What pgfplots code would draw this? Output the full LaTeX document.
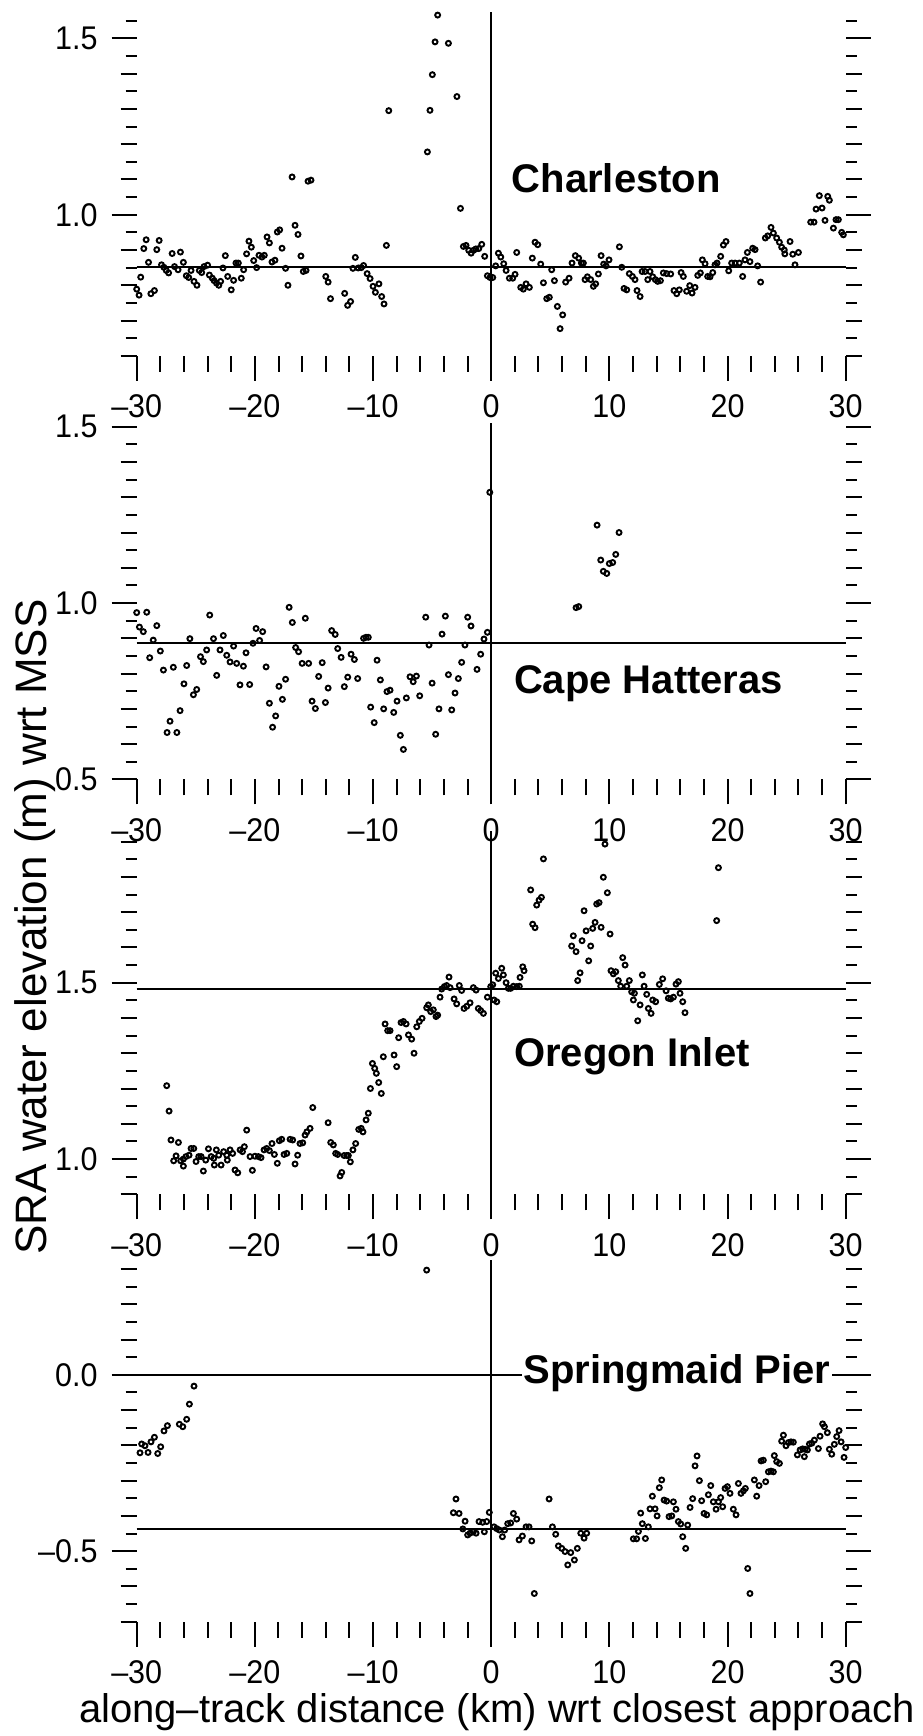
\documentclass[border=0pt]{standalone}
\usepackage{fontspec}
\setmainfont{Liberation Sans}
\newfontfamily\tickfont[FakeStretch=0.93]{Liberation Sans}
\usepackage{pgfplots}
\usepackage{pgfplotstable}
\pgfplotsset{compat=1.18}

\pgfplotstableread{
x y
-30.0 0.789
-29.8 0.772
-29.66 0.823
-29.4 0.904
-29.2 0.929
-29.0 0.865
-28.8 0.776
-28.5 0.785
-28.3 0.901
-28.1 0.927
-27.9 0.858
-27.7 0.851
-27.5 0.842
-27.3 0.835
-27.0 0.890
-26.8 0.853
-26.5 0.844
-26.3 0.894
-26.05 0.865
-25.8 0.827
-25.6 0.822
-25.4 0.842
-25.15 0.811
-24.9 0.800
-24.7 0.842
-24.5 0.836
-24.3 0.853
-24.0 0.857
-23.85 0.829
-23.6 0.820
-23.45 0.813
-23.25 0.806
-23.05 0.800
-22.9 0.811
-22.7 0.849
-22.5 0.884
-22.3 0.825
-22.0 0.787
-21.8 0.814
-21.6 0.863
-21.4 0.863
-21.15 0.820
-20.95 0.844
-20.7 0.889
-20.5 0.925
-20.3 0.908
-20.1 0.870
-19.85 0.850
-19.65 0.885
-19.4 0.880
-19.2 0.885
-18.97 0.937
-18.77 0.920
-18.55 0.866
-18.3 0.871
-18.1 0.951
-17.9 0.957
-17.7 0.905
-17.4 0.848
-17.2 0.800
-16.85 1.107
-16.6 0.970
-16.35 0.944
-16.1 0.883
-15.9 0.839
-15.67 0.842
-15.5 1.095
-15.25 1.098
-14.0 0.825
-13.8 0.809
-13.6 0.762
-12.4 0.777
-12.15 0.743
-11.9 0.754
-11.7 0.848
-11.5 0.879
-11.25 0.849
-11.0 0.850
-10.8 0.856
-10.5 0.833
-10.25 0.819
-10.0 0.797
-9.8 0.780
-9.5 0.804
-9.27 0.768
-9.07 0.747
-8.87 0.913
-8.67 1.295
-5.4 1.178
-5.18 1.296
-4.98 1.397
-4.75 1.490
-4.53 1.566
-3.62 1.486
-2.9 1.335
-2.6 1.018
-2.35 0.910
-2.13 0.913
-1.9 0.899
-1.7 0.891
-1.5 0.899
-1.3 0.903
-1.05 0.904
-0.8 0.916
-0.55 0.882
-0.32 0.827
-0.10 0.822
0.13 0.822
0.38 0.855
0.61 0.891
0.81 0.880
1.06 0.861
1.26 0.842
1.54 0.820
1.82 0.820
2.02 0.831
2.16 0.893
2.5 0.794
2.72 0.789
2.95 0.804
3.23 0.794
3.48 0.877
3.71 0.922
3.94 0.915
4.19 0.860
4.42 0.807
4.7 0.762
4.92 0.766
5.12 0.844
5.35 0.813
5.6 0.740
5.83 0.677
6.05 0.716
6.3 0.809
6.59 0.820
6.84 0.863
7.12 0.884
7.4 0.877
7.63 0.863
7.8 0.863
7.94 0.816
8.14 0.824
8.42 0.816
8.65 0.797
8.84 0.804
9.07 0.832
9.3 0.884
9.52 0.860
9.72 0.855
9.97 0.872
10.85 0.909
11.05 0.851
11.24 0.791
11.47 0.787
11.69 0.833
11.95 0.825
12.17 0.816
12.34 0.785
12.6 0.768
12.77 0.839
13.02 0.839
13.25 0.816
13.44 0.839
13.67 0.824
13.89 0.816
14.09 0.811
14.32 0.813
14.57 0.835
14.85 0.833
15.19 0.832
15.47 0.785
15.7 0.776
15.92 0.787
16.07 0.836
16.26 0.825
16.54 0.783
16.8 0.799
17.0 0.778
17.25 0.794
17.48 0.828
17.7 0.835
17.87 0.872
18.1 0.861
18.32 0.825
18.52 0.824
18.75 0.836
18.94 0.858
19.11 0.863
19.42 0.882
19.65 0.914
19.87 0.924
20.1 0.841
20.35 0.863
20.64 0.863
21.0 0.863
21.28 0.825
21.48 0.872
21.68 0.893
21.9 0.867
22.13 0.905
22.33 0.901
22.55 0.855
22.8 0.809
23.2 0.934
23.4 0.940
23.68 0.964
23.88 0.948
24.16 0.934
24.39 0.922
24.58 0.908
24.8 0.900
24.85 0.889
25.29 0.924
25.52 0.888
25.71 0.858
26.0 0.893
27.04 0.979
27.32 0.979
27.49 1.016
27.77 1.054
28.0 1.019
28.25 0.984
28.48 1.052
28.62 1.041
28.96 0.962
29.18 0.986
29.38 0.986
29.66 0.950
29.8 0.943
}\charleston

\pgfplotstableread{
x y
-30.0 0.973
-29.77 0.932
-29.44 0.919
-29.15 0.974
-28.9 0.845
-28.6 0.895
-28.3 0.936
-28.0 0.864
-27.74 0.810
-27.43 0.633
-27.18 0.665
-26.9 0.818
-26.6 0.633
-26.33 0.695
-26.0 0.771
-25.77 0.823
-25.5 0.899
-25.2 0.740
-24.92 0.755
-24.6 0.848
-24.36 0.834
-24.08 0.867
-23.82 0.966
-23.5 0.899
-23.23 0.795
-22.95 0.867
-22.67 0.908
-22.38 0.852
-22.1 0.833
-21.8 0.878
-21.54 0.829
-21.26 0.768
-20.97 0.821
-20.75 0.859
-20.44 0.769
-20.16 0.886
-19.9 0.928
-19.6 0.894
-19.34 0.919
-19.05 0.819
-18.77 0.716
-18.5 0.648
-18.24 0.680
-17.96 0.764
-17.67 0.727
-17.4 0.784
-17.1 0.988
-16.83 0.945
-16.55 0.874
-16.3 0.862
-16.0 0.829
-15.73 0.957
-15.45 0.829
-15.16 0.722
-14.88 0.701
-14.6 0.792
-14.3 0.831
-14.03 0.718
-13.8 0.759
-13.5 0.922
-13.2 0.911
-12.99 0.871
-12.7 0.846
-12.43 0.763
-12.14 0.790
-11.86 0.855
-11.58 0.840
-11.3 0.786
-10.8 0.900
-10.6 0.903
-10.4 0.903
-10.2 0.705
-9.9 0.661
-9.66 0.838
-9.38 0.782
-9.1 0.700
-8.82 0.749
-8.56 0.753
-8.25 0.690
-7.97 0.722
-7.69 0.625
-7.43 0.585
-7.18 0.731
-6.87 0.791
-6.6 0.777
-6.33 0.793
-6.05 0.737
-5.54 0.960
-5.26 0.881
-5.0 0.773
-4.7 0.628
-4.42 0.700
-4.16 0.912
-3.88 0.963
-3.62 0.797
-3.34 0.697
-3.06 0.745
-2.78 0.786
-2.5 0.832
-2.22 0.881
-1.99 0.960
-1.71 0.935
-1.2 0.812
-0.89 0.855
-0.61 0.898
-0.32 0.917
-0.12 1.314
7.18 0.987
7.41 0.990
8.96 1.221
9.27 1.122
9.49 1.090
9.78 1.084
10.0 1.112
10.28 1.115
10.54 1.138
10.82 1.200
}\hatteras

\pgfplotstableread{
x y
-27.46 1.208
-27.26 1.136
-27.1 1.054
-26.87 0.995
-26.67 1.009
-26.47 1.047
-26.28 0.995
-26.05 1.000
-26.05 0.980
-25.83 1.007
-25.57 1.011
-25.4 1.030
-25.17 1.030
-24.98 0.993
-24.75 1.007
-24.55 1.007
-24.36 0.966
-24.16 0.997
-23.93 1.029
-23.7 1.007
-23.48 1.002
-23.43 0.983
-23.26 1.026
-23.06 1.011
-22.86 0.983
-22.64 1.021
-22.38 1.011
-22.33 0.997
-22.1 1.026
-21.88 1.016
-21.68 0.969
-21.45 0.961
-21.25 1.026
-21.05 1.021
-20.89 1.035
-20.69 1.082
-20.41 1.007
-20.21 0.968
-19.99 1.008
-19.7 1.007
-19.48 1.004
-19.22 1.026
-19.0 1.030
-18.77 1.024
-18.55 1.044
-18.35 1.013
-18.1 0.988
-17.93 1.052
-17.73 1.056
-17.53 1.013
-17.3 1.016
-17.02 1.056
-16.8 1.054
-16.6 0.986
-16.38 1.011
-16.18 1.044
-15.95 1.046
-15.75 1.068
-15.6 1.077
-15.33 1.087
-15.1 1.146
-13.8 1.103
-13.58 1.047
-13.36 1.040
-13.16 1.016
-12.99 1.013
-12.79 0.952
-12.65 0.962
-12.45 1.010
-12.23 1.010
-12.09 1.010
-11.92 0.992
-11.7 1.026
-11.47 1.044
-11.21 1.084
-11.0 1.087
-10.85 1.077
-10.59 1.111
-10.4 1.130
-10.22 1.200
-10.05 1.271
-9.86 1.257
-9.72 1.243
-9.52 1.217
-9.3 1.186
-9.13 1.290
-8.98 1.383
-8.76 1.364
-8.56 1.364
-8.22 1.295
-8.0 1.262
-7.83 1.344
-7.63 1.387
-7.43 1.390
-7.2 1.383
-7.0 1.352
-6.73 1.340
-6.53 1.300
-6.3 1.375
-6.08 1.390
-5.85 1.399
-5.46 1.429
-5.32 1.437
-5.12 1.418
-4.9 1.423
-4.67 1.404
-4.53 1.408
-4.33 1.459
-4.19 1.482
-3.96 1.489
-3.77 1.492
-3.57 1.516
-3.48 1.486
-3.14 1.454
-2.92 1.440
-2.7 1.492
-2.5 1.478
-2.3 1.427
-2.07 1.433
-1.79 1.443
-1.51 1.486
-1.28 1.479
-1.09 1.427
-0.89 1.421
-0.66 1.413
-0.32 1.459
-0.04 1.489
0.13 1.494
0.24 1.451
0.47 1.446
0.38 1.527
0.61 1.512
0.89 1.541
1.03 1.522
1.26 1.500
1.45 1.484
1.65 1.484
1.88 1.490
2.16 1.489
2.38 1.490
2.44 1.515
2.67 1.545
2.78 1.534
3.34 1.763
3.51 1.666
3.71 1.656
3.85 1.720
4.05 1.734
4.25 1.742
4.42 1.851
6.81 1.604
6.95 1.633
7.18 1.588
7.32 1.506
7.52 1.528
7.69 1.619
7.86 1.704
8.03 1.647
8.25 1.562
8.42 1.604
8.59 1.654
8.79 1.671
8.93 1.723
9.13 1.727
9.3 1.657
9.49 1.799
9.63 1.893
9.83 1.755
10.06 1.638
10.14 1.534
10.34 1.525
10.54 1.531
10.76 1.506
10.96 1.490
11.13 1.571
11.33 1.550
11.47 1.490
11.69 1.506
11.89 1.474
12.12 1.470
12.03 1.451
12.4 1.392
12.6 1.437
12.79 1.522
12.94 1.490
13.16 1.467
13.3 1.427
13.53 1.413
13.67 1.451
13.92 1.446
14.23 1.495
14.51 1.511
14.8 1.477
14.99 1.456
15.19 1.454
15.42 1.459
15.64 1.496
15.84 1.503
15.98 1.470
16.21 1.446
16.4 1.415
19.08 1.676
19.23 1.826
}\oregon

\pgfplotstableread{
x y
-29.72 -0.221
-29.58 -0.196
-29.3 -0.201
-29.04 -0.220
-28.79 -0.190
-28.5 -0.177
-28.22 -0.223
-27.97 -0.204
-27.69 -0.159
-27.4 -0.144
-26.39 -0.140
-26.1 -0.147
-25.77 -0.126
-25.54 -0.083
-25.15 -0.032
-5.46 0.297
-3.2 -0.391
-2.98 -0.352
-2.72 -0.393
-2.4 -0.437
-2.21 -0.415
-1.99 -0.454
-1.79 -0.449
-1.51 -0.445
-1.28 -0.449
-1.03 -0.416
-0.72 -0.418
-0.58 -0.445
-0.38 -0.416
-0.16 -0.390
0.24 -0.431
0.47 -0.436
0.69 -0.440
0.95 -0.459
1.14 -0.440
1.4 -0.422
1.65 -0.420
1.88 -0.393
2.16 -0.409
2.36 -0.468
2.64 -0.457
2.95 -0.431
3.2 -0.431
3.43 -0.471
3.65 -0.620
4.9 -0.352
5.18 -0.431
5.46 -0.452
5.69 -0.485
5.97 -0.492
6.25 -0.501
6.48 -0.539
6.73 -0.504
7.04 -0.525
7.29 -0.492
7.58 -0.449
7.86 -0.463
8.08 -0.449
12.03 -0.465
12.31 -0.465
12.46 -0.444
12.65 -0.392
12.79 -0.422
13.05 -0.464
13.3 -0.431
13.44 -0.380
13.64 -0.344
13.87 -0.380
14.04 -0.400
14.23 -0.320
14.43 -0.298
14.63 -0.355
14.85 -0.358
15.05 -0.402
15.28 -0.400
15.42 -0.360
15.64 -0.381
15.84 -0.416
16.04 -0.423
16.21 -0.459
16.46 -0.492
16.63 -0.426
16.83 -0.376
17.05 -0.351
17.25 -0.258
17.42 -0.230
17.62 -0.300
17.81 -0.357
18.01 -0.393
18.24 -0.397
18.38 -0.340
18.58 -0.314
18.8 -0.360
19.03 -0.381
19.23 -0.360
19.42 -0.348
19.59 -0.374
19.79 -0.322
19.99 -0.317
20.21 -0.336
20.49 -0.381
20.72 -0.397
20.92 -0.308
21.14 -0.336
21.34 -0.329
21.51 -0.322
21.71 -0.549
21.9 -0.620
22.27 -0.298
22.47 -0.344
22.67 -0.314
22.84 -0.244
23.03 -0.242
23.23 -0.303
23.46 -0.275
23.68 -0.273
23.88 -0.275
23.96 -0.229
24.16 -0.246
24.39 -0.251
24.58 -0.188
24.73 -0.171
24.95 -0.201
25.15 -0.192
25.37 -0.190
25.57 -0.191
25.91 -0.227
26.14 -0.213
26.36 -0.210
26.5 -0.232
26.56 -0.211
26.76 -0.213
26.93 -0.196
27.13 -0.194
27.35 -0.185
27.69 -0.209
27.83 -0.174
28.05 -0.139
28.2 -0.147
28.45 -0.164
28.62 -0.211
28.82 -0.225
29.04 -0.197
29.24 -0.175
29.44 -0.158
29.61 -0.190
29.86 -0.234
30.0 -0.206
}\springmaid

\pgfplotsset{
  panel/.style={
    scale only axis, width=177.25pt,
    xmin=-30, xmax=30,
    axis x line*=bottom, axis y line*=box, separate axis lines,
    axis line style={draw=none},
    tick align=outside,
    ytick pos=both, yticklabel pos=left,
    xtick={-30,-20,...,30},
    xticklabels={–30,–20,–10,0,10,20,30},
    minor xtick={-28,-26,-24,-22,-18,-16,-14,-12,-8,-6,-4,-2,2,4,6,8,12,14,16,18,22,24,26,28},
    major tick length=6.25pt, minor tick length=4pt,
    tick style={black, line width=0.5pt},
    extra y tick style={major tick length=2.75pt, tick label style={opacity=0}},
    extra y tick labels={},
    tick label style={font=\tickfont\fontsize{8.2}{9}\selectfont},
    clip=false,
  },
  dots/.style={only marks, mark=o, mark size=0.62pt, mark options={line width=0.48pt, black}},
  refl/.style={black, line width=0.5pt, no marks},
  zl/.style={black, line width=0.38pt, no marks},
}
\tikzset{ttl/.style={font=\bfseries\fontsize{10}{12}\selectfont, anchor=base west, inner sep=0pt}}

\begin{document}
\begin{tikzpicture}
\path[use as bounding box] (0,0) rectangle (230.5pt,-434pt);

% Charleston
\begin{axis}[panel, at={(34.175pt,-88.95pt)}, anchor=south west, height=85.97pt,
  ymin=0.6, ymax=1.575,
  ytick={1.0,1.5}, yticklabels={1.0,1.5},
  minor ytick={0.6,0.7,0.8,0.9,1.1,1.2,1.3,1.4},
  extra y ticks={0.65,0.75,0.85,0.95,1.05,1.15,1.25,1.35,1.45,1.55}]
\addplot[refl] coordinates {(-30,0.851) (30,0.851)};
\addplot[zl] coordinates {(0,0.6) (0,1.575)};
\addplot[dots] table {\charleston};
\node[ttl] at (axis cs:1.68,1.062) {Charleston};
\end{axis}

% Cape Hatteras
\begin{axis}[panel, at={(34.175pt,-194.85pt)}, anchor=south west, height=89.05pt,
  ymin=0.5, ymax=1.51,
  ytick={0.5,1.0,1.5}, yticklabels={0.5,1.0,1.5},
  minor ytick={0.6,0.7,0.8,0.9,1.1,1.2,1.3,1.4},
  extra y ticks={0.55,0.65,0.75,0.85,0.95,1.05,1.15,1.25,1.35,1.45}]
\addplot[refl] coordinates {(-30,0.887) (30,0.887)};
\addplot[zl] coordinates {(0,0.5) (0,1.51)};
\addplot[dots] table {\hatteras};
\node[ttl] at (axis cs:1.87,0.744) {Cape Hatteras};
\end{axis}

% Oregon Inlet
\begin{axis}[panel, at={(34.175pt,-298.575pt)}, anchor=south west, height=90.82pt,
  ymin=0.9, ymax=1.93,
  ytick={1.0,1.5}, yticklabels={1.0,1.5},
  minor ytick={0.9,1.1,1.2,1.3,1.4,1.6,1.7,1.8,1.9},
  extra y ticks={0.95,1.05,1.15,1.25,1.35,1.45,1.55,1.65,1.75,1.85}]
\addplot[refl] coordinates {(-30,1.482) (30,1.482)};
\addplot[zl] coordinates {(0,0.9) (0,1.93)};
\addplot[dots] table {\oregon};
\node[ttl] at (axis cs:1.87,1.262) {Oregon Inlet};
\end{axis}

% Springmaid Pier
\begin{axis}[panel, at={(34.175pt,-405.425pt)}, anchor=south west, height=90.37pt,
  ymin=-0.7, ymax=0.325,
  ytick={-0.5,0.0}, yticklabels={–0.5,0.0},
  minor ytick={-0.7,-0.6,-0.4,-0.3,-0.2,-0.1,0.1,0.2,0.3},
  extra y ticks={-0.65,-0.55,-0.45,-0.35,-0.25,-0.15,-0.05,0.05,0.15,0.25}]
\addplot[refl] coordinates {(-30,-0.437) (30,-0.437)};
\addplot[refl] coordinates {(-30,0) (30,0)};
\addplot[zl] coordinates {(0,-0.7) (0,0.325)};
\addplot[dots] table {\springmaid};
\node[ttl, fill=white, inner xsep=0.4pt, inner ysep=1pt] at (axis cs:2.55,-0.024) {Springmaid Pier};
\end{axis}

\node[font=\fontsize{10}{12}\selectfont, anchor=base] at (124.25pt,-430.5pt) {along–track distance (km) wrt closest approach};
\node[font=\fontsize{11}{13}\selectfont, rotate=90, anchor=base] at (11.75pt,-231.75pt) {SRA water elevation (m) wrt MSS};
\end{tikzpicture}
\end{document}
